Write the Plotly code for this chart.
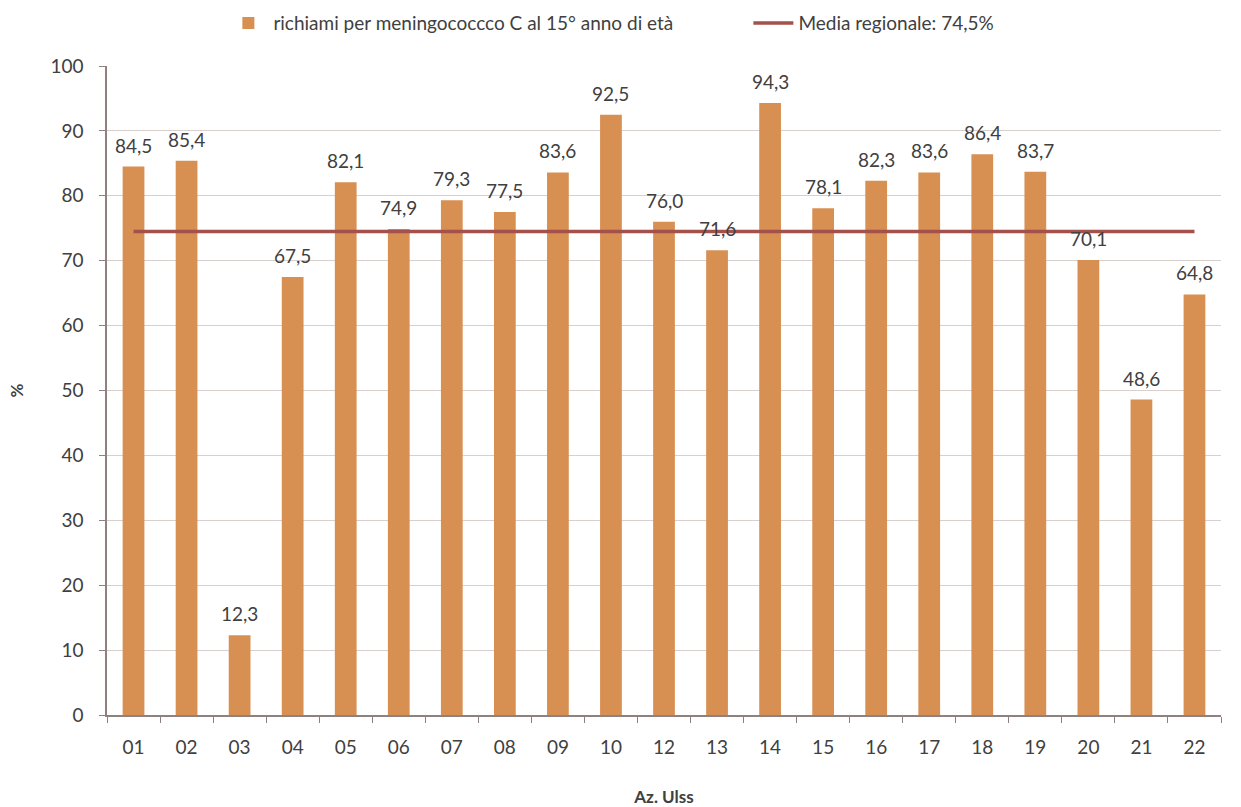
import plotly.graph_objects as go

# Aziende ULSS and coverage (%) for the meningococcus C booster at age 15
ulss = ["01", "02", "03", "04", "05", "06", "07", "08", "09", "10", "12",
        "13", "14", "15", "16", "17", "18", "19", "20", "21", "22"]
copertura = [84.5, 85.4, 12.3, 67.5, 82.1, 74.9, 79.3, 77.5, 83.6, 92.5, 76.0,
             71.6, 94.3, 78.1, 82.3, 83.6, 86.4, 83.7, 70.1, 48.6, 64.8]
media_regionale = 74.5

y_ticks = list(range(0, 101, 10))

FONT = "Lato, 'Open Sans', sans-serif"
BAR_COLOR = "#D78F52"
LINE_COLOR = "#A5514B"
TEXT_COLOR = "#404040"
AXIS_COLOR = "#8F8180"

labels = [f"{v:.1f}".replace(".", ",") for v in copertura]
media_label = f"Media regionale: {media_regionale:.1f}%".replace(".", ",")

fig = go.Figure()

fig.add_trace(go.Bar(
    x=ulss,
    y=copertura,
    name="richiami per meningococcco C al 15° anno di età",
    marker=dict(color=BAR_COLOR, line=dict(width=0)),
    width=0.41,
))

fig.add_trace(go.Scatter(
    x=ulss,
    y=[media_regionale] * len(ulss),
    mode="lines",
    name=media_label,
    line=dict(color=LINE_COLOR, width=3.5),
))

# value labels sitting a little above each bar (x given as category index)
for idx, (val, lab) in enumerate(zip(copertura, labels)):
    fig.add_annotation(
        x=idx, y=val, text=lab,
        xref="x", yref="y",
        showarrow=False,
        yanchor="bottom", yshift=8,
        font=dict(size=19, color=TEXT_COLOR, family=FONT),
    )

fig.update_layout(
    width=1241,
    height=807,
    margin=dict(l=107, r=20, t=66, b=92),
    paper_bgcolor="white",
    plot_bgcolor="white",
    font=dict(family=FONT, color=TEXT_COLOR),
    showlegend=True,
    legend=dict(
        orientation="h",
        xref="container", yref="container",
        x=0.180, xanchor="left",
        y=0.995, yanchor="top",
        font=dict(size=19, color=TEXT_COLOR, family=FONT),
        itemwidth=40,
        entrywidth=470,
    ),
    bargap=0.59,
)

fig.update_xaxes(
    type="category",
    categoryorder="array",
    categoryarray=ulss,
    range=[-0.5, len(ulss) - 0.5],
    tickson="boundaries",
    ticks="outside",
    ticklen=6,
    tickcolor=AXIS_COLOR,
    ticklabelstandoff=14,
    showline=True,
    linecolor=AXIS_COLOR,
    linewidth=1.5,
    showgrid=False,
    automargin=False,
    tickfont=dict(size=19, color=TEXT_COLOR, family=FONT),
    title=dict(text="<b>Az. Ulss</b>", font=dict(size=17, color=TEXT_COLOR, family=FONT), standoff=36),
)

fig.update_yaxes(
    range=[0, 100],
    tickvals=y_ticks,
    ticks="outside",
    ticklen=6,
    tickcolor=AXIS_COLOR,
    ticklabelstandoff=12,
    showline=True,
    linecolor=AXIS_COLOR,
    linewidth=1.5,
    showgrid=True,
    gridcolor="#D9D0CE",
    gridwidth=1,
    zeroline=False,
    automargin=False,
    tickfont=dict(size=19, color=TEXT_COLOR, family=FONT),
    title=dict(text="<b>%</b>", font=dict(size=17, color=TEXT_COLOR, family=FONT), standoff=22),
)

fig.write_html("out.html")
